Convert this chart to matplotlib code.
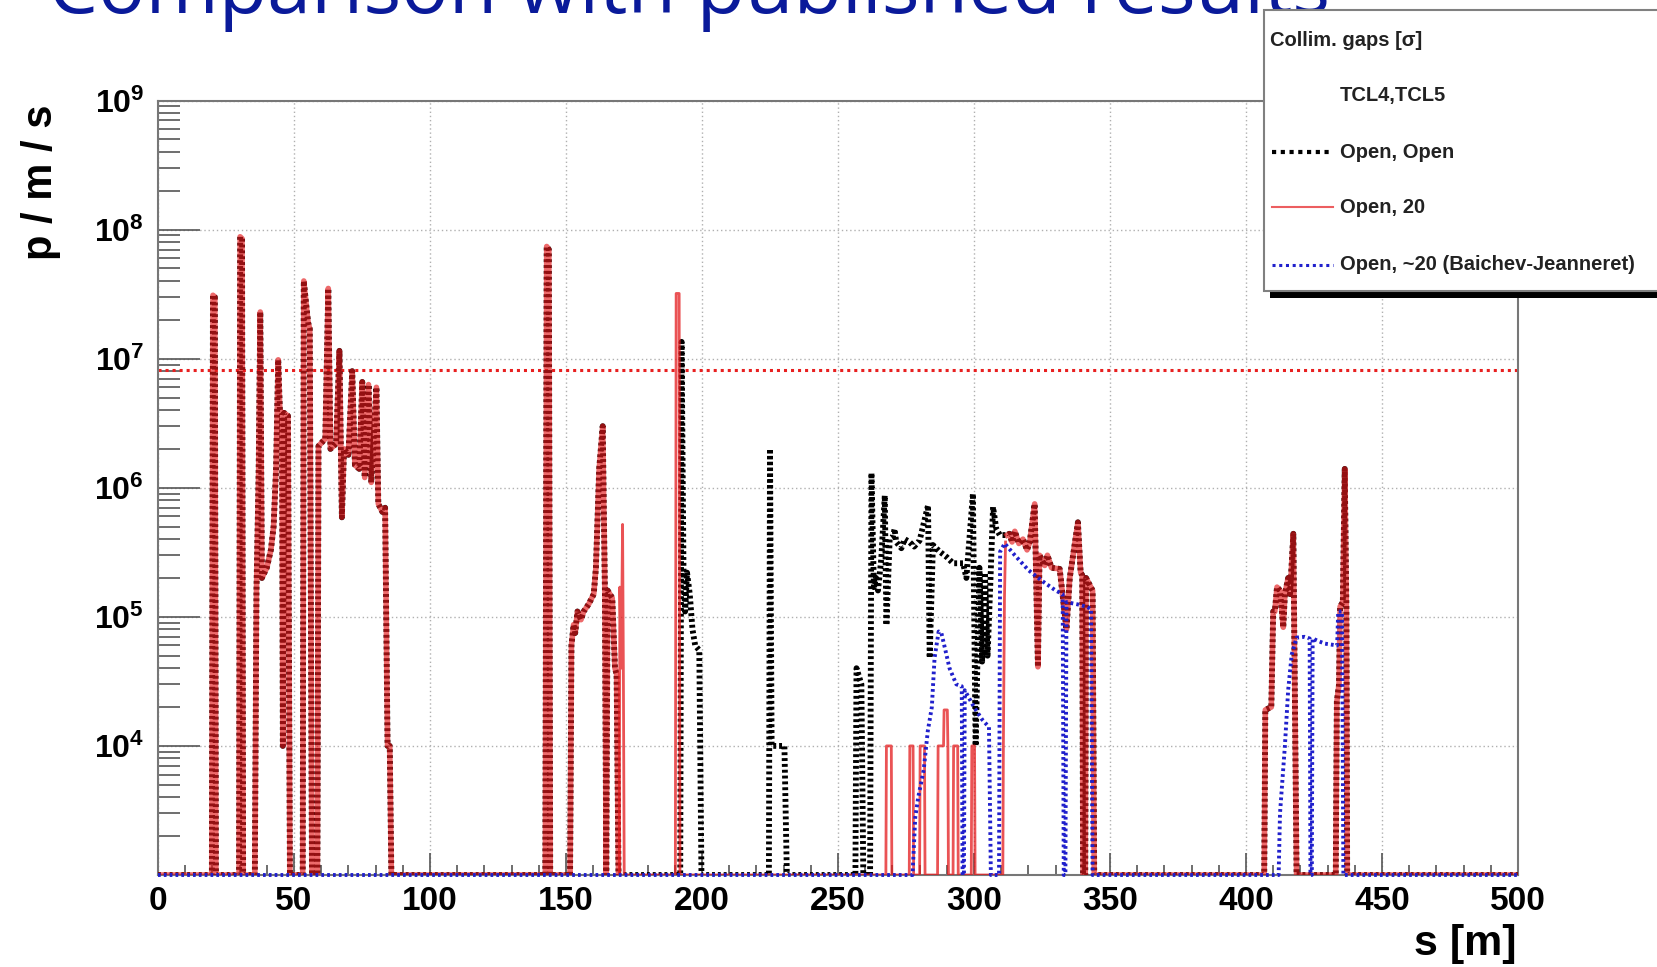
import numpy as np
import matplotlib
matplotlib.use("Agg")
import matplotlib.pyplot as plt
from matplotlib.ticker import MultipleLocator, LogLocator, FixedLocator, FuncFormatter, NullFormatter
from matplotlib.patches import Rectangle
from matplotlib.lines import Line2D

plt.rcParams['font.family'] = ['Liberation Sans', 'DejaVu Sans']
plt.rcParams['mathtext.fontset'] = 'custom'
plt.rcParams['mathtext.rm'] = 'Liberation Sans:bold'
plt.rcParams['mathtext.bf'] = 'Liberation Sans:bold'

# losses p/m/s along s [m]; 0 = no loss (drawn on the frame, like ROOT)
# upstream part, same for "Open, Open" and "Open, 20"
s_upstream = [0, 19.8, 20.2, 20.9, 21.3, 29.8, 30.2, 30.9, 31.3,
              35.6, 36.2, 37.0, 37.6, 38.2, 40.0, 41.5, 42.5, 43.4, 44.2, 44.8, 45.6, 45.9, 46.4, 47.8, 48.5,
              53.2, 53.6, 54.5, 55.2, 55.8, 56.6,
              58.6, 59.0, 61.5, 62.6, 63.4, 65.5, 66.7, 67.6, 68.4, 70.0, 71.4, 72.4, 74.0, 75.1, 76.0, 77.4,
              78.4, 80.3, 81.0, 82.5, 83.5, 84.4, 85.2, 85.8,
              142.4, 142.9, 143.7, 144.2,
              151.5, 152.0, 152.8, 153.4, 154.2, 155.5, 156.5, 158.4, 160.2, 161.0, 162.2, 163.5, 164.3, 164.8,
              165.3, 167.0, 168.0, 168.6, 169.3]
loss_upstream = [0, 0, 3.1e7, 3.0e7, 0, 0, 8.8e7, 8.5e7, 0,
                 0, 1.6e5, 1.3e6, 2.3e7, 2.0e5, 2.4e5, 3.3e5, 5.0e5, 1.4e6, 9.8e6, 4.0e6, 3.8e6, 1.0e4, 3.8e6, 3.6e6, 0,
                 0, 4.0e7, 2.6e7, 1.9e7, 1.7e7, 0,
                 0, 2.1e6, 2.4e6, 3.5e7, 2.0e6, 2.2e6, 1.15e7, 5.9e5, 2.0e6, 1.8e6, 8.0e6, 1.5e6, 1.4e6, 6.6e6, 1.2e6, 6.3e6,
                 1.1e6, 6.0e6, 7.5e5, 6.5e5, 7.0e5, 1.0e4, 1.0e4, 0,
                 0, 7.4e7, 7.0e7, 0,
                 0, 6.0e4, 8.7e4, 7.5e4, 1.1e5, 9.5e4, 1.1e5, 1.26e5, 1.5e5, 2.4e5, 1.4e6, 3.0e6, 1.6e5, 0,
                 1.6e5, 1.4e5, 4.0e4, 3.6e4, 0]

# only "Open, Open" (TCL5 open)
s_open_open = [192.0, 192.5, 193.2, 193.8, 194.5, 195.5, 196.5, 197.5, 199.0, 199.8,
               224.6, 225.0, 225.6, 230.3, 231.2,
               256.4, 256.8, 258.6, 259.3,
               261.8, 262.3, 263.2, 264.0, 264.7, 265.9, 267.2, 267.8, 269.0, 270.2, 270.8, 271.4, 273.3, 274.5,
               276.3, 278.0, 280.0, 283.1, 283.7, 284.9, 287.4, 290.0, 292.3, 296.0, 297.2, 299.6, 300.6,
               302.0, 303.0, 304.0, 305.0, 306.0, 307.0, 308.2, 309.5]
loss_open_open = [0, 1.35e7, 2.3e5, 1.1e5, 2.2e5, 1.5e5, 8.0e4, 6.0e4, 5.5e4, 0,
                  0, 2.0e6, 1.0e4, 1.0e4, 0,
                  0, 4.0e4, 3.0e4, 0,
                  0, 1.3e6, 1.7e5, 2.0e5, 1.6e5, 2.8e5, 8.7e5, 8.6e4, 4.0e5, 4.2e5, 4.8e5, 3.8e5, 3.4e5, 4.0e5,
                  3.8e5, 3.5e5, 3.9e5, 7.3e5, 4.8e4, 3.6e5, 3.2e5, 2.9e5, 2.6e5, 2.6e5, 2.0e5, 9.0e5, 1.0e4,
                  2.4e5, 4.5e4, 2.2e5, 5.0e4, 1.8e5, 7.1e5, 4.8e5, 4.3e5]

# only "Open, 20" (TCL5 at 20 sigma)
s_open_20 = [169.6, 169.8, 170.3, 170.8, 171.1, 171.4,
             190.2, 190.5, 191.6, 191.9,
             267.6, 267.8, 269.6, 269.8,
             276.2, 276.4, 277.6, 277.8,
             280.0, 280.2, 281.8, 282.0,
             286.6, 286.8, 288.8, 289.0, 290.2, 290.4, 290.6,
             292.3, 292.5, 294.0, 294.2,
             299.0, 299.2, 300.2, 300.4,
             310.6, 310.8, 311.2, 311.6]
loss_open_20 = [0, 1.7e5, 4.0e4, 5.2e5, 3.5e4, 0,
                0, 3.2e7, 3.2e7, 0,
                0, 1.0e4, 1.0e4, 0,
                0, 1.0e4, 1.0e4, 0,
                0, 1.0e4, 1.0e4, 0,
                0, 1.0e4, 1.0e4, 1.9e4, 1.9e4, 1.0e4, 0,
                0, 1.0e4, 1.0e4, 0,
                0, 1.0e4, 1.0e4, 0,
                0, 1.0e4, 1.4e5, 3.8e5]

# arc and downstream part, same for both
s_arc = [312.2, 313.0, 314.0, 315.0, 316.5, 318.0, 319.5, 320.5, 322.3, 323.5, 324.1, 326.0, 327.0, 328.5,
         331.5, 334.0, 335.2, 338.2, 339.2, 339.8, 340.1, 340.9, 341.2, 343.6, 344.2,
         406.7, 407.1, 409.3, 410.0, 410.6, 411.4, 412.5, 413.7, 414.3, 415.5, 416.2, 417.4, 418.6,
         433.0, 433.4, 434.2, 434.6, 435.6, 436.3, 436.9, 437.2, 500]
loss_arc = [4.3e5, 4.4e5, 3.8e5, 4.6e5, 3.7e5, 4.0e5, 3.3e5, 3.8e5, 7.5e5, 4.1e4, 3.0e5, 2.5e5, 3.0e5, 2.4e5,
            2.35e5, 8.0e4, 2.0e5, 5.4e5, 2.2e5, 2.1e5, 0, 0, 2.0e5, 1.6e5, 0,
            0, 1.9e4, 2.0e4, 1.1e5, 1.1e5, 1.7e5, 1.6e5, 8.3e4, 1.5e5, 2.0e5, 1.5e5, 4.4e5, 0,
            0, 2.2e4, 3.0e4, 1.2e5, 1.3e5, 1.4e6, 1.2e5, 0, 0]

# "Open, ~20 (Baichev-Jeanneret)"
s_bj = [0, 277.4, 278.4, 279.5, 281.5, 283.0, 284.5, 285.5, 287.0, 288.0, 289.5, 291.0, 293.5, 295.5, 295.8,
        296.3, 296.6, 300.0, 303.0, 305.5, 306.2,
        309.2, 309.6, 311.3, 315.0, 320.0, 325.0, 330.0, 332.6, 333.0, 333.6, 334.0, 338.0, 341.3, 343.0, 343.6,
        412.0, 412.5, 414.3, 415.5, 416.8, 418.6, 421.5, 423.4, 423.7, 424.2, 424.5, 426.5, 429.0, 433.5,
        433.9, 435.3, 435.8, 500]
loss_bj = [0, 0, 2.8e3, 4.0e3, 6.5e3, 1.3e4, 2.0e4, 4.8e4, 7.7e4, 7.5e4, 5.5e4, 4.0e4, 3.0e4, 2.9e4, 0,
           0, 2.7e4, 2.0e4, 1.6e4, 1.4e4, 0,
           0, 3.2e5, 3.7e5, 3.0e5, 2.3e5, 1.9e5, 1.6e5, 1.5e5, 0, 0, 1.3e5, 1.25e5, 1.2e5, 1.15e5, 0,
           0, 3.0e3, 1.0e4, 2.7e4, 5.1e4, 6.9e4, 7.0e4, 6.8e4, 0, 0, 6.8e4, 6.5e4, 6.2e4, 6.0e4,
           1.1e5, 1.1e5, 0, 0]

quench_limit = 8.1e6
x_ticks = [0, 50, 100, 150, 200, 250, 300, 350, 400, 450, 500]
legend_header = "Collim. gaps [\u03c3]"
legend_sub = "TCL4,TCL5"
legend_labels = ["Open, Open", "Open, 20", "Open, ~20 (Baichev-Jeanneret)"]

Y_MIN, Y_MAX = 1e3, 1e9
W, H = 1658, 967


def series(*parts):
    s = np.concatenate([np.asarray(p[0], float) for p in parts])
    v = np.concatenate([np.asarray(p[1], float) for p in parts])
    return s, np.clip(v, Y_MIN, None)


s_black, v_black = series((s_upstream, loss_upstream), (s_open_open, loss_open_open), (s_arc, loss_arc))
s_blue, v_blue = series((s_bj, loss_bj))

fig = plt.figure(figsize=(W / 100, H / 100), dpi=100)
ax = fig.add_axes([158 / W, 1 - 875 / H, 1360 / W, 774.5 / H])

red = '#e41a1c'
ax.plot(s_black, v_black, color='black', lw=4.2, ls=(0, (0.5, 0.5)), zorder=3)
# "Open, 20": where it coincides with "Open, Open" the red line sits on the black dots
for part, lw in [((s_upstream, loss_upstream), 4.0), ((s_arc, loss_arc), 4.0),
                 ((s_open_20, loss_open_20), 2.0)]:
    sx, vx = series(part)
    ax.plot(sx, vx, color=red, lw=lw, alpha=0.65 if lw > 3 else 0.75, zorder=4)
ax.plot(s_blue, v_blue, color='#2020cc', lw=2.8, ls=(0, (0.7, 0.8)), clip_on=False, zorder=5)
ax.axhline(quench_limit, color='#e82020', lw=2.2, ls=(0, (1, 1.3)), zorder=2)

ax.set_yscale('log')
ax.set_xlim(0, 500)
ax.set_ylim(Y_MIN, Y_MAX)

ax.xaxis.set_major_locator(FixedLocator(x_ticks))
ax.xaxis.set_minor_locator(MultipleLocator(10))
ax.yaxis.set_major_locator(LogLocator(base=10, numticks=20))
ax.yaxis.set_minor_locator(LogLocator(base=10, subs=np.arange(2, 10), numticks=20))
ax.yaxis.set_minor_formatter(NullFormatter())
ax.yaxis.set_major_formatter(FuncFormatter(
    lambda v, p: r'$\mathbf{10^{%d}}$' % round(np.log10(v)) if v >= 1e4 else ''))

ax.tick_params(axis='x', which='major', direction='in', length=16, width=1.2, color='#555555',
               labelsize=24, pad=8)
ax.tick_params(axis='x', which='minor', direction='in', length=7, width=1.2, color='#555555')
ax.tick_params(axis='y', which='major', direction='in', length=30, width=1.2, color='#555555',
               labelsize=23, pad=10)
ax.tick_params(axis='y', which='minor', direction='in', length=16, width=1.2, color='#555555')
for lab in ax.get_xticklabels():
    lab.set_fontweight('bold')

ax.grid(True, which='major', color='#b0b0b0', ls=(0, (1, 2)), lw=1.0)
for sp in ax.spines.values():
    sp.set_color('#777777')
    sp.set_linewidth(1.5)

# slide title, cut by the top of the page
fig.text(48 / W, 1 - 12.5 / H, "Comparison with published results", color='#0a1a9a',
         fontsize=57, family=['Open Sans', 'DejaVu Sans'], ha='left', va='baseline')

fig.text(41 / W, 1 - 182 / H, "p / m / s", rotation=90, ha='center', va='center',
         fontsize=30, fontweight='bold')
fig.text(1517 / W, 1 - 955 / H, "s [m]", ha='right', va='baseline', fontsize=31, fontweight='bold')

# ROOT style legend box with shadow
fig.add_artist(Rectangle((1270 / W, 1 - 298 / H), 500 / W, 8 / H, transform=fig.transFigure,
                         facecolor='black', edgecolor='none', zorder=9))
fig.add_artist(Rectangle((1264 / W, 1 - 291 / H), 500 / W, 281 / H, transform=fig.transFigure,
                         facecolor='white', edgecolor='#808080', lw=1.5, zorder=10))
fig.text(1270 / W, 1 - 41 / H, legend_header, fontsize=14.5, fontweight='bold', color='#222222',
         ha='left', va='center', zorder=11)
fig.text(1340 / W, 1 - 95 / H, legend_sub, fontsize=14.5, fontweight='bold', color='#222222',
         ha='left', va='center', zorder=11)
legend_styles = [dict(color='black', lw=3.0, ls=(0, (1, 1.1))),
                 dict(color=red, lw=1.5, alpha=0.7),
                 dict(color='#2020cc', lw=2.2, ls=(0, (1, 1.2)))]
for yy, lab, st in zip([152, 207, 265], legend_labels, legend_styles):
    fig.add_artist(Line2D([1272 / W, 1333 / W], [1 - yy / H] * 2, transform=fig.transFigure,
                          zorder=11, **st))
    fig.text(1340 / W, 1 - yy / H, lab, fontsize=14.5, fontweight='bold', color='#222222',
             ha='left', va='center', zorder=11)

fig.savefig('out.png', dpi=100)
